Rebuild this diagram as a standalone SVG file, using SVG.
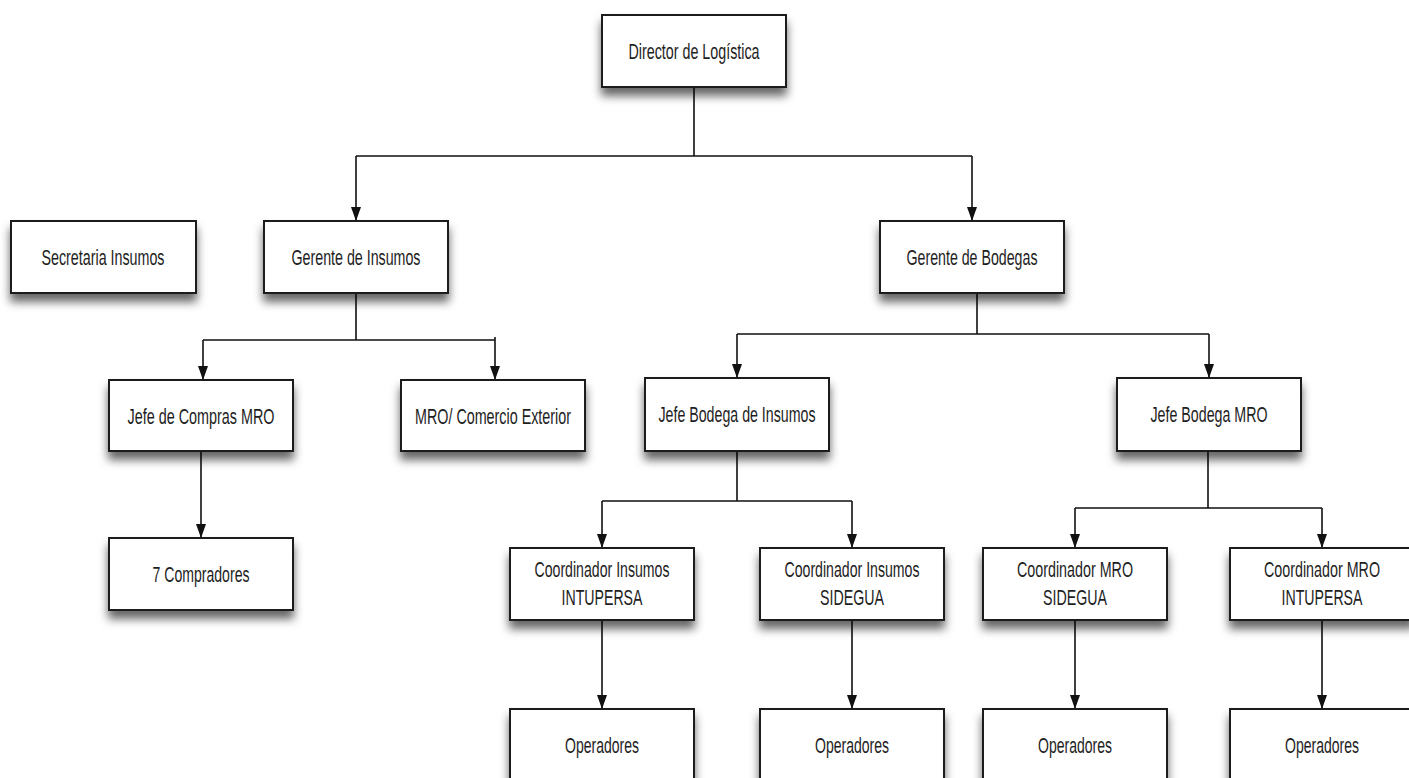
<svg xmlns="http://www.w3.org/2000/svg" width="1409" height="778" viewBox="0 0 1409 778">
<style>
.box{fill:#fff;stroke:#1a1a1a;stroke-width:2;filter:url(#sh)}
.t{font-family:"Liberation Sans Narrow","Liberation Sans",Arial,sans-serif;font-size:22px;fill:#1e1e1e;text-anchor:middle}
.c{fill:none;stroke:#111;stroke-width:1.6}
</style>
<defs>
<filter id="sh" x="-20%" y="-30%" width="140%" height="180%">
<feDropShadow dx="0" dy="8" stdDeviation="5" flood-color="#000" flood-opacity="0.6"/>
</filter>
<marker id="ah" markerUnits="userSpaceOnUse" markerWidth="14" markerHeight="10" refX="14" refY="5" orient="auto">
<path d="M0,0 L14,5 L0,10 z" fill="#111"/>
</marker>
</defs>
<rect width="1409" height="778" fill="#fff"/>
<g id="connectors">
<path class="c" d="M694,87 V156 M356,156 H972"/>
<path class="c" d="M356,156 V221" marker-end="url(#ah)"/>
<path class="c" d="M972,156 V221" marker-end="url(#ah)"/>
<path class="c" d="M356,293 V340 M203,340 H495"/>
<path class="c" d="M203,340 V380" marker-end="url(#ah)"/>
<path class="c" d="M495,337 V380" marker-end="url(#ah)"/>
<path class="c" d="M201,451 V538" marker-end="url(#ah)"/>
<path class="c" d="M977,293 V334 M737,334 H1209"/>
<path class="c" d="M737,334 V378" marker-end="url(#ah)"/>
<path class="c" d="M1209,334 V378" marker-end="url(#ah)"/>
<path class="c" d="M737,451 V501 M602,501 H852"/>
<path class="c" d="M602,501 V548" marker-end="url(#ah)"/>
<path class="c" d="M852,501 V548" marker-end="url(#ah)"/>
<path class="c" d="M1208,451 V508 M1075,508 H1322"/>
<path class="c" d="M1075,508 V548" marker-end="url(#ah)"/>
<path class="c" d="M1322,508 V548" marker-end="url(#ah)"/>
<path class="c" d="M602,620 V709" marker-end="url(#ah)"/>
<path class="c" d="M852,620 V709" marker-end="url(#ah)"/>
<path class="c" d="M1075,620 V709" marker-end="url(#ah)"/>
<path class="c" d="M1322,620 V709" marker-end="url(#ah)"/>
</g>
<g id="director"><rect class="box" x="602" y="15" width="184" height="72"/><text class="t" x="694" y="59" textLength="131" lengthAdjust="spacingAndGlyphs">Director de Logística</text></g>
<g id="secretaria"><rect class="box" x="11" y="221" width="185" height="72"/><text class="t" x="103" y="265" textLength="123" lengthAdjust="spacingAndGlyphs">Secretaria Insumos</text></g>
<g id="gerente-insumos"><rect class="box" x="264" y="221" width="184" height="72"/><text class="t" x="356" y="265" textLength="129" lengthAdjust="spacingAndGlyphs">Gerente de Insumos</text></g>
<g id="gerente-bodegas"><rect class="box" x="880" y="221" width="184" height="72"/><text class="t" x="972" y="265" textLength="131" lengthAdjust="spacingAndGlyphs">Gerente de Bodegas</text></g>
<g id="jefe-compras"><rect class="box" x="109" y="380" width="184" height="71"/><text class="t" x="201" y="424" textLength="147" lengthAdjust="spacingAndGlyphs">Jefe de Compras MRO</text></g>
<g id="mro-comercio"><rect class="box" x="401" y="380" width="184" height="71"/><text class="t" x="493" y="424" textLength="156" lengthAdjust="spacingAndGlyphs">MRO/ Comercio Exterior</text></g>
<g id="jefe-bodega-insumos"><rect class="box" x="645" y="378" width="184" height="73"/><text class="t" x="737" y="422" textLength="157" lengthAdjust="spacingAndGlyphs">Jefe Bodega de Insumos</text></g>
<g id="jefe-bodega-mro"><rect class="box" x="1117" y="378" width="184" height="73"/><text class="t" x="1209" y="422" textLength="117" lengthAdjust="spacingAndGlyphs">Jefe Bodega MRO</text></g>
<g id="compradores"><rect class="box" x="109" y="538" width="184" height="72"/><text class="t" x="201" y="582" textLength="97" lengthAdjust="spacingAndGlyphs">7 Compradores</text></g>
<g id="coord-ins-intupersa"><rect class="box" x="510" y="548" width="184" height="72"/><text class="t" x="602" y="577" textLength="135" lengthAdjust="spacingAndGlyphs">Coordinador Insumos</text><text class="t" x="602" y="605" textLength="81" lengthAdjust="spacingAndGlyphs">INTUPERSA</text></g>
<g id="coord-ins-sidegua"><rect class="box" x="760" y="548" width="184" height="72"/><text class="t" x="852" y="577" textLength="135" lengthAdjust="spacingAndGlyphs">Coordinador Insumos</text><text class="t" x="852" y="605" textLength="64" lengthAdjust="spacingAndGlyphs">SIDEGUA</text></g>
<g id="coord-mro-sidegua"><rect class="box" x="983" y="548" width="184" height="72"/><text class="t" x="1075" y="577" textLength="116" lengthAdjust="spacingAndGlyphs">Coordinador MRO</text><text class="t" x="1075" y="605" textLength="64" lengthAdjust="spacingAndGlyphs">SIDEGUA</text></g>
<g id="coord-mro-intupersa"><rect class="box" x="1230" y="548" width="184" height="72"/><text class="t" x="1322" y="577" textLength="116" lengthAdjust="spacingAndGlyphs">Coordinador MRO</text><text class="t" x="1322" y="605" textLength="81" lengthAdjust="spacingAndGlyphs">INTUPERSA</text></g>
<g id="operadores-1"><rect class="box" x="510" y="709" width="184" height="72"/><text class="t" x="602" y="753" textLength="74" lengthAdjust="spacingAndGlyphs">Operadores</text></g>
<g id="operadores-2"><rect class="box" x="760" y="709" width="184" height="72"/><text class="t" x="852" y="753" textLength="74" lengthAdjust="spacingAndGlyphs">Operadores</text></g>
<g id="operadores-3"><rect class="box" x="983" y="709" width="184" height="72"/><text class="t" x="1075" y="753" textLength="74" lengthAdjust="spacingAndGlyphs">Operadores</text></g>
<g id="operadores-4"><rect class="box" x="1230" y="709" width="184" height="72"/><text class="t" x="1322" y="753" textLength="74" lengthAdjust="spacingAndGlyphs">Operadores</text></g>
</svg>
